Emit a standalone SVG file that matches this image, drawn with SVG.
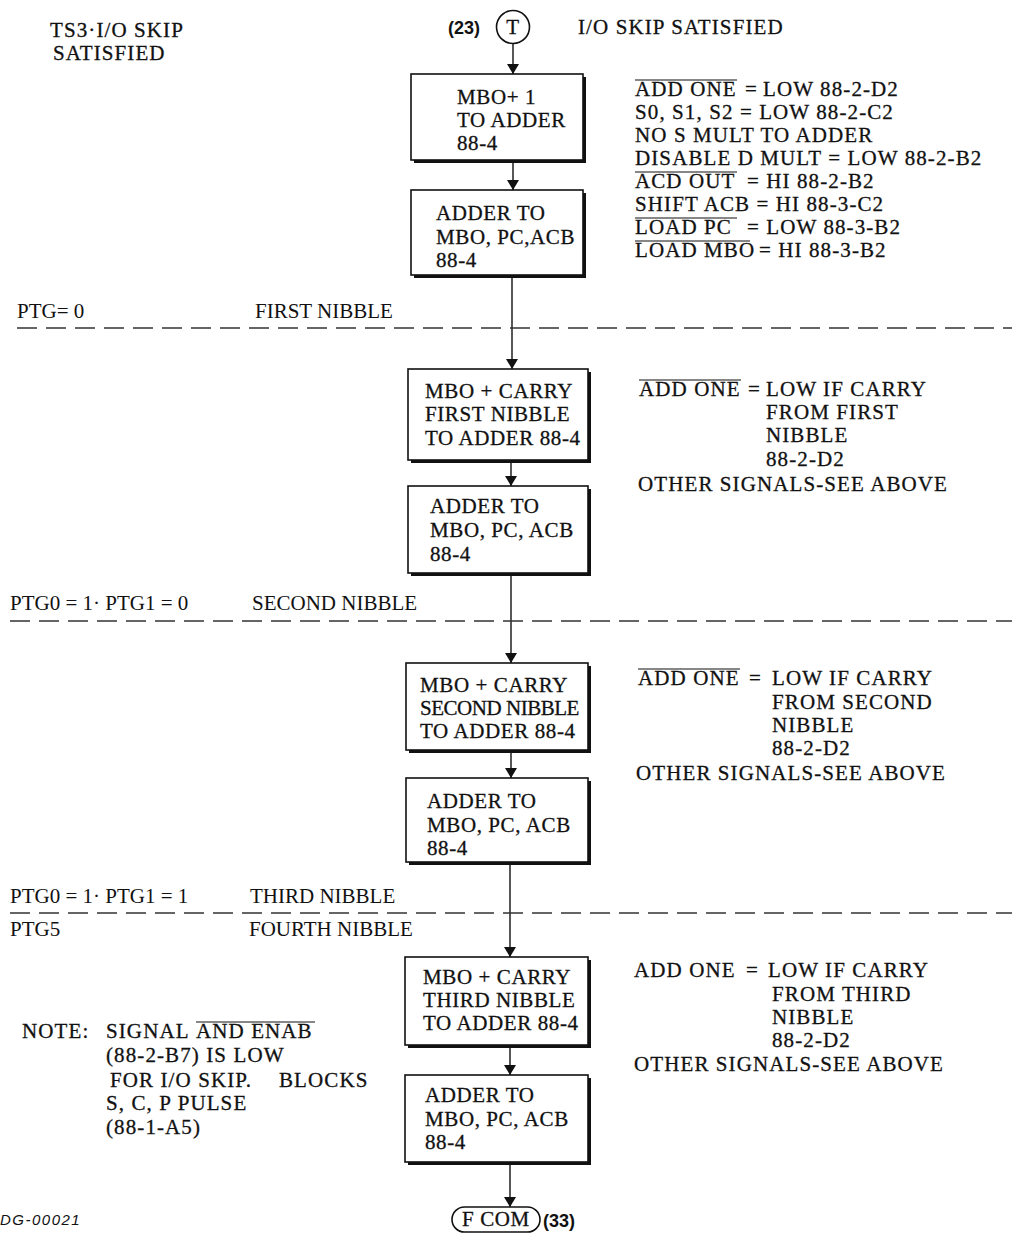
<svg xmlns="http://www.w3.org/2000/svg" width="1012" height="1235" viewBox="0 0 1012 1235">
<style>
.t{font-family:"Liberation Serif","Times New Roman",serif;font-size:21px;letter-spacing:1.1px;fill:#111;stroke:#111;stroke-width:0.3}
.b{font-family:"Liberation Serif","Times New Roman",serif;font-size:21px;letter-spacing:0.6px;fill:#111;stroke:#111;stroke-width:0.3}
.c{font-family:"Liberation Serif",serif;font-size:21px;fill:#111}
.s{font-family:"Liberation Sans",Arial,sans-serif;font-size:18px;font-weight:bold;fill:#111}
.box{fill:#fff;stroke:#111;stroke-width:1.6}
.sh{fill:none;stroke:#111;stroke-width:3}
.ln{stroke:#111;stroke-width:1.4;fill:none}
.ov{stroke:#111;stroke-width:1.2}
.dash{stroke:#333;stroke-width:1.3;stroke-dasharray:20 9;fill:none}
</style>
<defs>
<marker id="ah" viewBox="0 0 10 12" refX="10" refY="6" markerWidth="10" markerHeight="12" orient="auto" markerUnits="userSpaceOnUse">
<path d="M0,0 L10,6 L0,12 z" fill="#111"/>
</marker>
</defs>
<rect width="1012" height="1235" fill="#fff"/>

<g id="connectors">
<line class="ln" x1="513" y1="44" x2="513" y2="74" marker-end="url(#ah)"/>
<line class="ln" x1="513" y1="160" x2="513" y2="190" marker-end="url(#ah)"/>
<line class="ln" x1="512" y1="275" x2="512" y2="369" marker-end="url(#ah)"/>
<line class="ln" x1="511" y1="460" x2="511" y2="486" marker-end="url(#ah)"/>
<line class="ln" x1="511" y1="573" x2="511" y2="663" marker-end="url(#ah)"/>
<line class="ln" x1="511" y1="750" x2="511" y2="778" marker-end="url(#ah)"/>
<line class="ln" x1="510" y1="862" x2="510" y2="957" marker-end="url(#ah)"/>
<line class="ln" x1="510" y1="1045" x2="510" y2="1075" marker-end="url(#ah)"/>
<line class="ln" x1="510" y1="1162" x2="510" y2="1207" marker-end="url(#ah)"/>
</g>

<g id="dividers">
<line class="dash" x1="17" y1="328" x2="1012" y2="328"/>
<line class="dash" x1="10" y1="621" x2="1012" y2="621"/>
<line class="dash" x1="10" y1="913" x2="1012" y2="913"/>
<text class="c" x="17" y="318">PTG= 0</text>
<text class="c" x="255" y="318">FIRST NIBBLE</text>
<text class="c" x="10" y="610">PTG0 = 1· PTG1 = 0</text>
<text class="c" x="252" y="610">SECOND NIBBLE</text>
<text class="c" x="10" y="903">PTG0 = 1· PTG1 = 1</text>
<text class="c" x="250" y="903">THIRD NIBBLE</text>
<text class="c" x="10" y="936">PTG5</text>
<text class="c" x="249" y="936">FOURTH NIBBLE</text>
</g>

<g id="header">
<text class="t" x="50" y="37">TS3·I/O SKIP</text>
<text class="t" x="53" y="60">SATISFIED</text>
<text class="t" x="578" y="34">I/O SKIP SATISFIED</text>
</g>

<g id="start">
<text class="s" x="448" y="34">(23)</text>
<circle cx="513" cy="27" r="16.5" fill="#fff" stroke="#111" stroke-width="1.6"/>
<text class="b" x="513" y="34" text-anchor="middle">T</text>
</g>

<g id="n1">
<rect class="box" x="411" y="74" width="172" height="86"/>
<path class="sh" d="M584.5,77 V161.5 H414"/>
<text class="b" x="457" y="104">MBO+ 1</text>
<text class="b" x="457" y="127">TO ADDER</text>
<text class="b" x="457" y="150">88-4</text>
</g>

<g id="n2">
<rect class="box" x="411" y="190" width="172" height="85"/>
<path class="sh" d="M584.5,193 V276.5 H414"/>
<text class="b" x="436" y="220">ADDER TO</text>
<text class="b" x="436" y="244">MBO, PC,ACB</text>
<text class="b" x="436" y="267">88-4</text>
</g>

<g id="notes1">
<text class="t" x="635" y="96">ADD ONE</text><line class="ov" x1="635" y1="80" x2="737" y2="80"/>
<text class="t" x="745" y="96">=</text>
<text class="t" x="763" y="96">LOW 88-2-D2</text>
<text class="t" x="635" y="119">S0, S1, S2 = LOW 88-2-C2</text>
<text class="t" x="635" y="142">NO S MULT TO ADDER</text>
<text class="t" x="635" y="165">DISABLE D MULT = LOW 88-2-B2</text>
<text class="t" x="635" y="188">ACD OUT</text><line class="ov" x1="635" y1="172" x2="737" y2="172"/>
<text class="t" x="747" y="188">= HI 88-2-B2</text>
<text class="t" x="635" y="211">SHIFT ACB = HI 88-3-C2</text>
<text class="t" x="635" y="234">LOAD PC</text><line class="ov" x1="635" y1="218" x2="737" y2="218"/>
<text class="t" x="747" y="234">= LOW 88-3-B2</text>
<text class="t" x="635" y="257">LOAD MBO</text><line class="ov" x1="635" y1="241" x2="750" y2="241"/>
<text class="t" x="759" y="257">= HI 88-3-B2</text>
</g>

<g id="n3">
<rect class="box" x="408" y="369" width="180" height="91"/>
<path class="sh" d="M589.5,372 V461.5 H411"/>
<text class="b" x="425" y="398">MBO + CARRY</text>
<text class="b" x="425" y="421">FIRST NIBBLE</text>
<text class="b" x="425" y="445">TO ADDER 88-4</text>
</g>

<g id="n4">
<rect class="box" x="408" y="486" width="180" height="87"/>
<path class="sh" d="M589.5,489 V574.5 H411"/>
<text class="b" x="430" y="513">ADDER TO</text>
<text class="b" x="430" y="537">MBO, PC, ACB</text>
<text class="b" x="430" y="561">88-4</text>
</g>

<g id="notes2">
<text class="t" x="639" y="396">ADD ONE</text><line class="ov" x1="639" y1="380" x2="741" y2="380"/>
<text class="t" x="748" y="396">=</text>
<text class="t" x="766" y="396">LOW IF CARRY</text>
<text class="t" x="766" y="419">FROM FIRST</text>
<text class="t" x="766" y="442">NIBBLE</text>
<text class="t" x="766" y="466">88-2-D2</text>
<text class="t" x="638" y="491">OTHER SIGNALS-SEE ABOVE</text>
</g>

<g id="n5">
<rect class="box" x="406" y="663" width="182" height="87"/>
<path class="sh" d="M589.5,666 V751.5 H409"/>
<text class="b" x="420" y="692">MBO + CARRY</text>
<text class="b" x="420" y="715" textLength="160">SECOND NIBBLE</text>
<text class="b" x="420" y="738">TO ADDER 88-4</text>
</g>

<g id="n6">
<rect class="box" x="406" y="778" width="182" height="84"/>
<path class="sh" d="M589.5,781 V863.5 H409"/>
<text class="b" x="427" y="808">ADDER TO</text>
<text class="b" x="427" y="832">MBO, PC, ACB</text>
<text class="b" x="427" y="855">88-4</text>
</g>

<g id="notes3">
<text class="t" x="638" y="685">ADD ONE</text><line class="ov" x1="638" y1="669" x2="740" y2="669"/>
<text class="t" x="749" y="685">=</text>
<text class="t" x="772" y="685">LOW IF CARRY</text>
<text class="t" x="772" y="709">FROM SECOND</text>
<text class="t" x="772" y="732">NIBBLE</text>
<text class="t" x="772" y="755">88-2-D2</text>
<text class="t" x="636" y="780">OTHER SIGNALS-SEE ABOVE</text>
</g>

<g id="n7">
<rect class="box" x="405" y="957" width="183" height="88"/>
<path class="sh" d="M589.5,960 V1046.5 H408"/>
<text class="b" x="423" y="984">MBO + CARRY</text>
<text class="b" x="423" y="1007">THIRD NIBBLE</text>
<text class="b" x="423" y="1030">TO ADDER 88-4</text>
</g>

<g id="n8">
<rect class="box" x="405" y="1075" width="183" height="87"/>
<path class="sh" d="M589.5,1078 V1163.5 H408"/>
<text class="b" x="425" y="1102">ADDER TO</text>
<text class="b" x="425" y="1126">MBO, PC, ACB</text>
<text class="b" x="425" y="1149">88-4</text>
</g>

<g id="notes4">
<text class="t" x="634" y="977">ADD ONE</text>
<text class="t" x="746" y="977">=</text>
<text class="t" x="768" y="977">LOW IF CARRY</text>
<text class="t" x="772" y="1001">FROM THIRD</text>
<text class="t" x="772" y="1024">NIBBLE</text>
<text class="t" x="772" y="1047">88-2-D2</text>
<text class="t" x="634" y="1071">OTHER SIGNALS-SEE ABOVE</text>
</g>

<g id="note">
<text class="t" x="22" y="1038">NOTE:</text>
<text class="t" x="106" y="1038">SIGNAL</text>
<text class="t" x="196" y="1038">AND ENAB</text><line class="ov" x1="196" y1="1022" x2="315" y2="1022"/>
<text class="t" x="106" y="1062">(88-2-B7) IS LOW</text>
<text class="t" x="110" y="1087">FOR I/O SKIP.</text>
<text class="t" x="279" y="1087">BLOCKS</text>
<text class="t" x="106" y="1110">S, C, P PULSE</text>
<text class="t" x="106" y="1134">(88-1-A5)</text>
</g>

<g id="end">
<rect x="452" y="1207" width="88" height="25" rx="12.5" fill="#fff" stroke="#111" stroke-width="1.6"/>
<text class="b" x="496" y="1226" text-anchor="middle">F COM</text>
<text class="s" x="543" y="1227">(33)</text>
</g>

<text x="0" y="1225" font-family="Liberation Sans, Arial, sans-serif" font-style="italic" font-size="15" letter-spacing="1.5" fill="#111">DG-00021</text>
</svg>
